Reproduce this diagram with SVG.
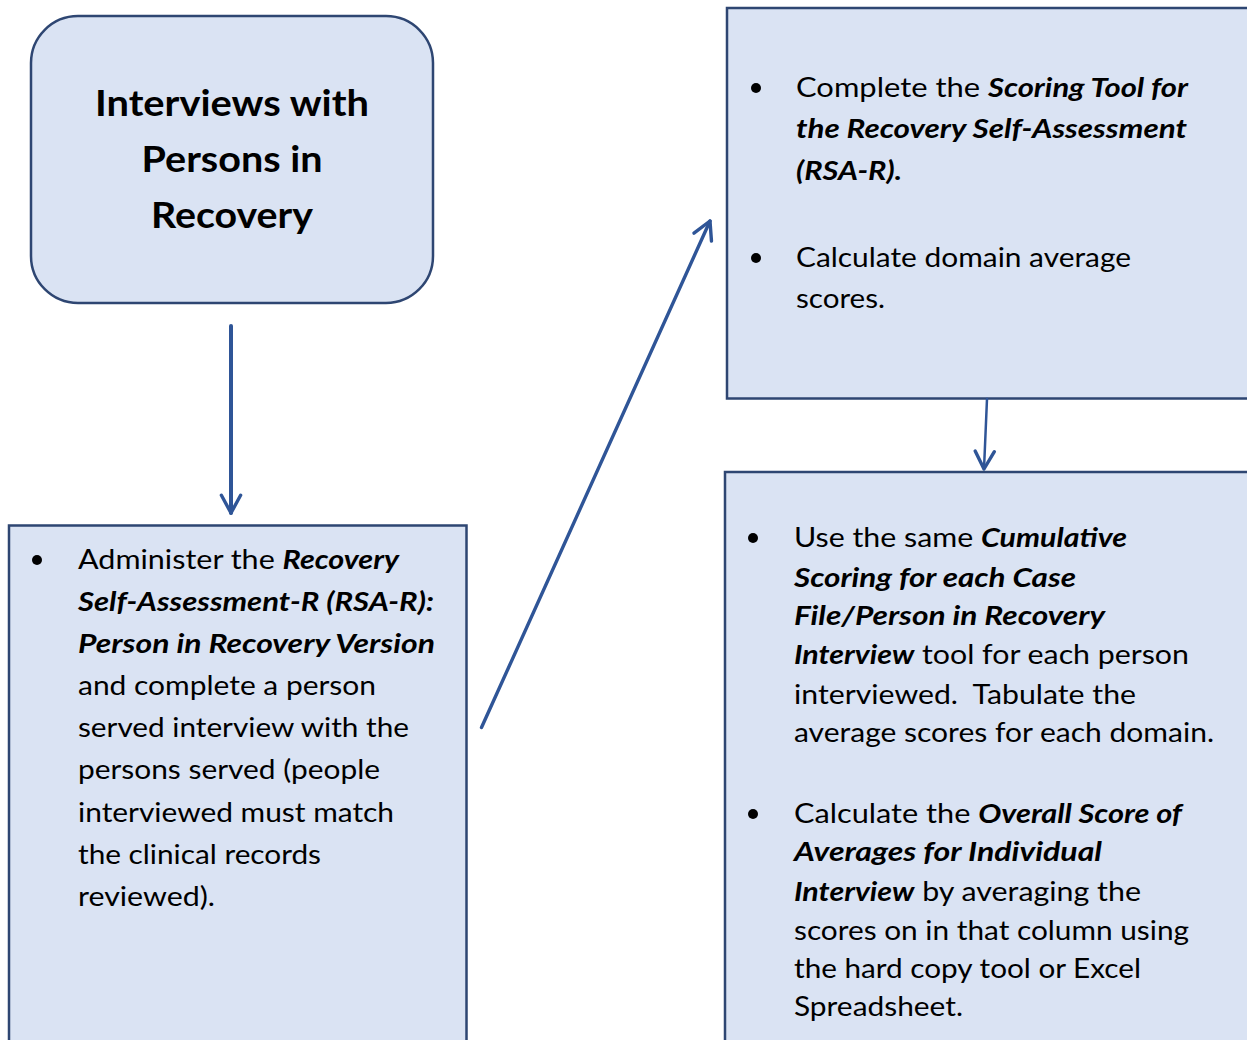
<svg xmlns="http://www.w3.org/2000/svg" width="1247" height="1040" viewBox="0 0 1247 1040">
  <style>
    .box { fill: #DAE3F3; stroke: #2E4672; stroke-width: 2.5; }
    .title { font-family: Lato, "Open Sans", "Liberation Sans", sans-serif; font-weight: bold; font-size: 36px; fill: #000; text-anchor: middle; }
    .body { font-family: Lato, "Open Sans", "Liberation Sans", sans-serif; font-size: 27px; fill: #000; }
    .bi { font-weight: bold; font-style: italic; }
    .bullet { fill: #000; }
    .conn { fill: none; stroke: #2F5597; stroke-linecap: round; }
  </style>
  <defs>
    <marker id="chevron" markerUnits="userSpaceOnUse" viewBox="-22 -12 26 24" refX="0" refY="0" markerWidth="26" markerHeight="24" orient="auto">
      <path d="M -17.7 -9.6 L 0 0 L -17.7 9.6" fill="none" stroke="#2F5597" stroke-width="3.4" stroke-linecap="round" stroke-linejoin="round"/>
    </marker>
  </defs>
  <rect width="1247" height="1040" fill="#FFFFFF"/>

  <!-- Start node -->
  <g id="node-interviews">
    <rect class="box" x="31" y="16" width="402" height="287" rx="47" ry="47"/>
    <text class="title" x="232" y="116" textLength="274" lengthAdjust="spacingAndGlyphs">Interviews with</text>
    <text class="title" x="232" y="172" textLength="181" lengthAdjust="spacingAndGlyphs">Persons in</text>
    <text class="title" x="232" y="228" textLength="162" lengthAdjust="spacingAndGlyphs">Recovery</text>
  </g>

  <!-- Administer step -->
  <g id="node-administer">
    <rect class="box" x="9" y="525.5" width="457.5" height="530"/>
    <circle class="bullet" cx="37" cy="560" r="5"/>
    <text class="body" x="78" y="569" textLength="321" lengthAdjust="spacingAndGlyphs">Administer the <tspan class="bi">Recovery</tspan></text>
    <text class="body bi" x="78" y="611" textLength="356" lengthAdjust="spacingAndGlyphs">Self-Assessment-R (RSA-R):</text>
    <text class="body bi" x="78" y="653" textLength="357" lengthAdjust="spacingAndGlyphs">Person in Recovery Version</text>
    <text class="body" x="78" y="695" textLength="298" lengthAdjust="spacingAndGlyphs">and complete a person</text>
    <text class="body" x="78" y="737" textLength="331" lengthAdjust="spacingAndGlyphs">served interview with the</text>
    <text class="body" x="78" y="779" textLength="302" lengthAdjust="spacingAndGlyphs">persons served (people</text>
    <text class="body" x="78" y="822" textLength="316" lengthAdjust="spacingAndGlyphs">interviewed must match</text>
    <text class="body" x="78" y="864" textLength="243" lengthAdjust="spacingAndGlyphs">the clinical records</text>
    <text class="body" x="78" y="906" textLength="137" lengthAdjust="spacingAndGlyphs">reviewed).</text>
  </g>

  <!-- Scoring tool step -->
  <g id="node-scoring">
    <rect class="box" x="727" y="8" width="540" height="390.5"/>
    <circle class="bullet" cx="756" cy="88" r="5"/>
    <text class="body" x="796" y="97" textLength="392" lengthAdjust="spacingAndGlyphs">Complete the <tspan class="bi">Scoring Tool for</tspan></text>
    <text class="body bi" x="796" y="138" textLength="391" lengthAdjust="spacingAndGlyphs">the Recovery Self-Assessment</text>
    <text class="body bi" x="796" y="180" textLength="106" lengthAdjust="spacingAndGlyphs">(RSA-R).</text>
    <circle class="bullet" cx="756" cy="258" r="5"/>
    <text class="body" x="796" y="267" textLength="335" lengthAdjust="spacingAndGlyphs">Calculate domain average</text>
    <text class="body" x="796" y="308" textLength="89" lengthAdjust="spacingAndGlyphs">scores.</text>
  </g>

  <!-- Tabulation step -->
  <g id="node-tabulate">
    <rect class="box" x="725" y="472" width="542" height="590"/>
    <circle class="bullet" cx="753" cy="538" r="5"/>
    <text class="body" x="794" y="547" textLength="333" lengthAdjust="spacingAndGlyphs">Use the same <tspan class="bi">Cumulative</tspan></text>
    <text class="body bi" x="794" y="587" textLength="282" lengthAdjust="spacingAndGlyphs">Scoring for each Case</text>
    <text class="body bi" x="794" y="625" textLength="311" lengthAdjust="spacingAndGlyphs">File/Person in Recovery</text>
    <text class="body" x="794" y="664" textLength="395" lengthAdjust="spacingAndGlyphs"><tspan class="bi">Interview</tspan> tool for each person</text>
    <text class="body" x="794" y="704" textLength="342" lengthAdjust="spacingAndGlyphs">interviewed.&#160; Tabulate the</text>
    <text class="body" x="794" y="742" textLength="420" lengthAdjust="spacingAndGlyphs">average scores for each domain.</text>
    <circle class="bullet" cx="753" cy="814" r="5"/>
    <text class="body" x="794" y="823" textLength="388" lengthAdjust="spacingAndGlyphs">Calculate the <tspan class="bi">Overall Score of</tspan></text>
    <text class="body bi" x="794" y="861" textLength="308" lengthAdjust="spacingAndGlyphs">Averages for Individual</text>
    <text class="body" x="794" y="901" textLength="347" lengthAdjust="spacingAndGlyphs"><tspan class="bi">Interview</tspan> by averaging the</text>
    <text class="body" x="794" y="940" textLength="395" lengthAdjust="spacingAndGlyphs">scores on in that column using</text>
    <text class="body" x="794" y="978" textLength="347" lengthAdjust="spacingAndGlyphs">the hard copy tool or Excel</text>
    <text class="body" x="794" y="1016" textLength="169" lengthAdjust="spacingAndGlyphs">Spreadsheet.</text>
  </g>

  <!-- Connectors -->
  <g id="connectors">
    <line class="conn" x1="231" y1="326" x2="231" y2="513" stroke-width="4" marker-end="url(#chevron)"/>
    <line class="conn" x1="481.5" y1="727.5" x2="710" y2="221" stroke-width="3.4" marker-end="url(#chevron)"/>
    <line class="conn" x1="987" y1="399" x2="984" y2="469" stroke-width="2.5" marker-end="url(#chevron)"/>
  </g>
</svg>
